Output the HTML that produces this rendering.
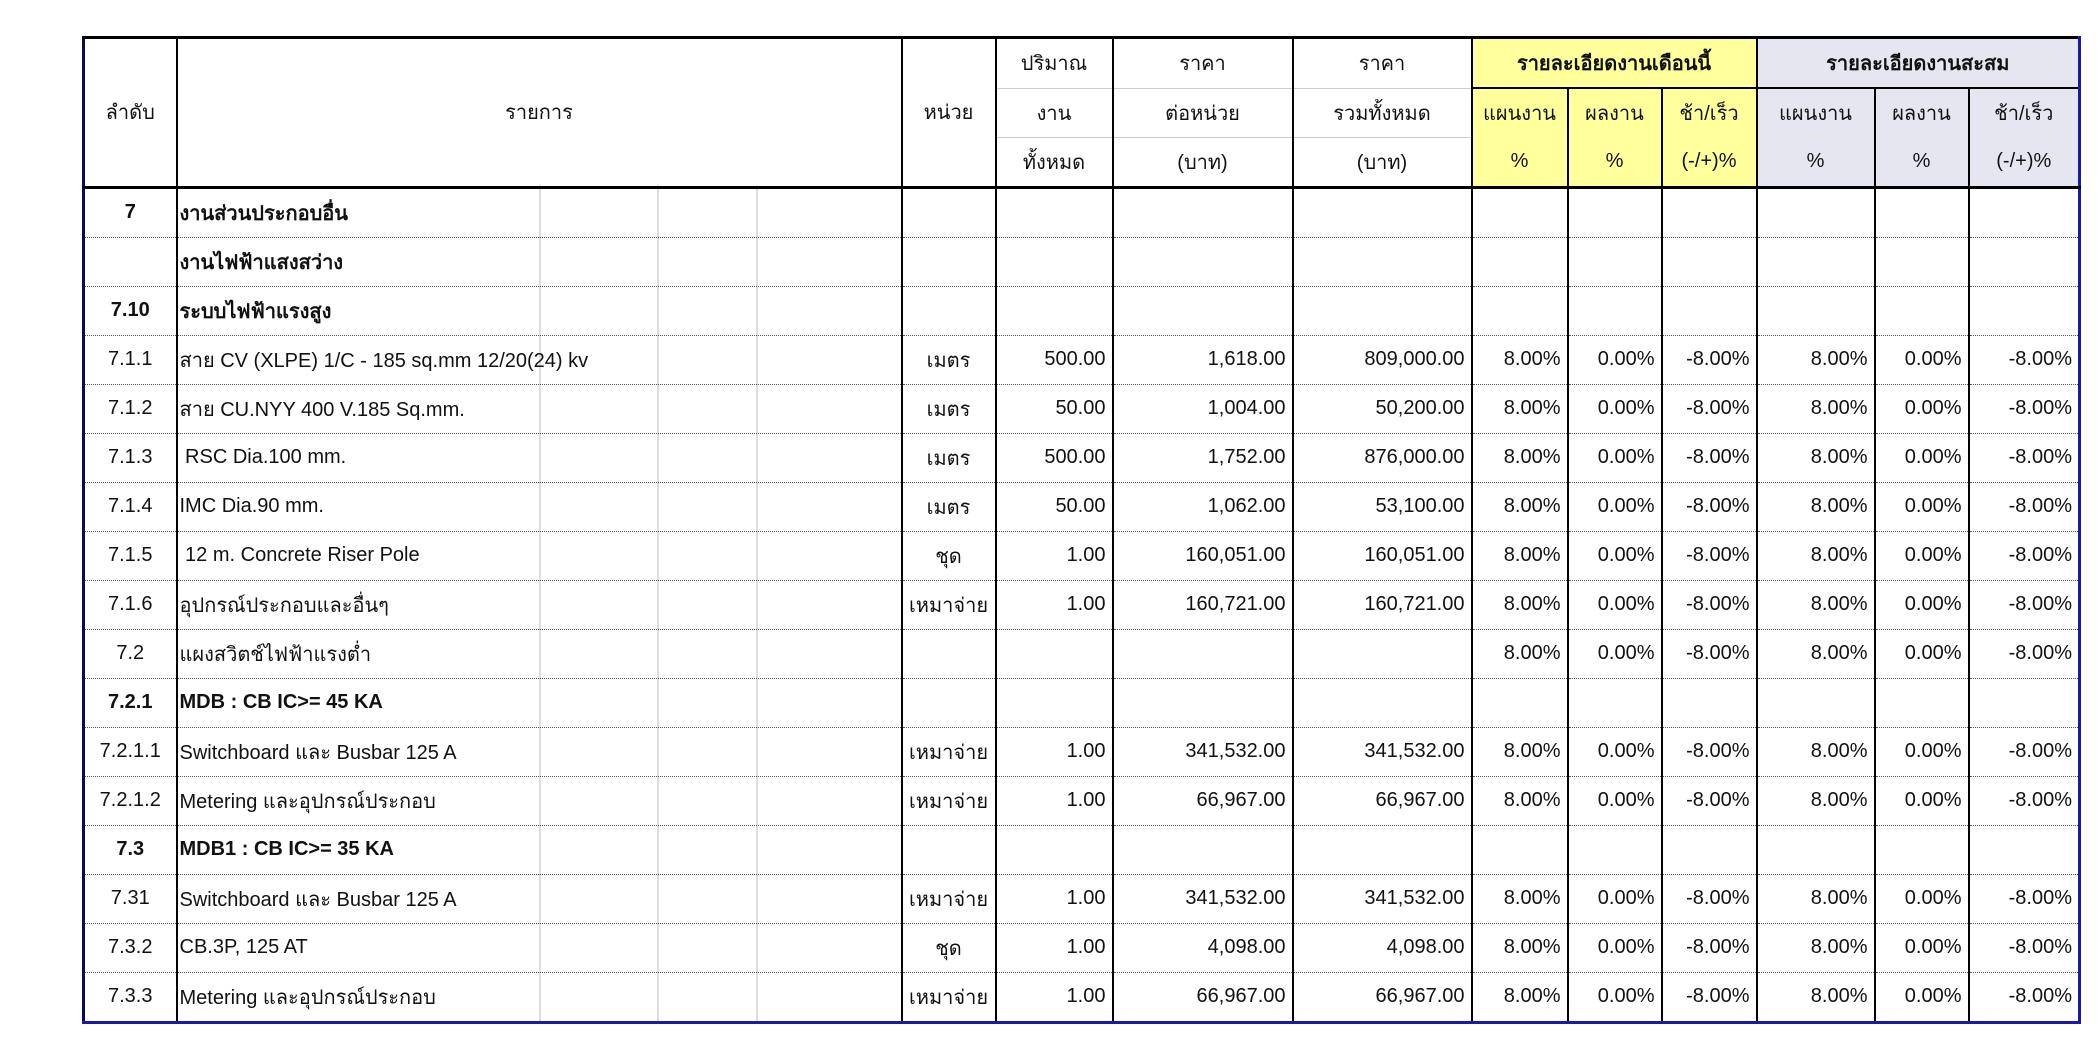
<!DOCTYPE html>
<html><head><meta charset="utf-8"><style>
html,body{margin:0;padding:0;background:#fff;width:2098px;height:1063px;overflow:hidden}
body{position:relative;font-family:"Liberation Sans","DejaVu Sans","Noto Sans CJK SC",sans-serif;font-size:20px;color:#111}
table{position:absolute;left:82px;top:36px;border-collapse:collapse;table-layout:fixed;width:1996px}
td{padding:0 6px;height:48px;border-left:2px solid #000;border-right:2px solid #000;border-bottom:1px dotted #555;white-space:nowrap;overflow:hidden;text-align:right}
thead td{border-bottom:1px solid #ccc;text-align:center;height:48px}
thead tr:first-child td{border-top:3px solid #000}
thead tr:last-child td, thead td.rs{border-bottom:3px solid #000}
.y{background:#ffff9c}.l{background:#e6e6f0}
.c{text-align:center}.t{text-align:left;padding-left:2px}.b{font-weight:bold}
.gv{position:absolute;top:185px;height:836px;width:2px;background:#ddd}
td.hb{border-bottom:2px solid #000}
</style></head><body>
<div class="gv" style="left:539px"></div><div class="gv" style="left:657px"></div><div class="gv" style="left:756px"></div>
<table>
<colgroup><col style="width:93px"><col style="width:725px"><col style="width:94px"><col style="width:117px"><col style="width:180px"><col style="width:179px"><col style="width:96px"><col style="width:94px"><col style="width:95px"><col style="width:118px"><col style="width:94px"><col style="width:111px"></colgroup>
<thead>
<tr><td rowspan="3" class="rs" style="border-left:3px solid #0a0a50">ลำดับ</td><td rowspan="3" class="rs">รายการ</td><td rowspan="3" class="rs">หน่วย</td><td>ปริมาณ</td><td>ราคา</td><td>ราคา</td><td colspan="3" class="y b hb">รายละเอียดงานเดือนนี้</td><td colspan="3" class="l b hb" style="border-right:3px solid #1a1aa8">รายละเอียดงานสะสม</td></tr>
<tr><td>งาน</td><td>ต่อหน่วย</td><td>รวมทั้งหมด</td><td class="y" style="border-bottom:none">แผนงาน</td><td class="y" style="border-bottom:none">ผลงาน</td><td class="y" style="border-bottom:none">ช้า/เร็ว</td><td class="l" style="border-bottom:none">แผนงาน</td><td class="l" style="border-bottom:none">ผลงาน</td><td class="l" style="border-bottom:none;border-right:3px solid #1a1aa8">ช้า/เร็ว</td></tr>
<tr><td>ทั้งหมด</td><td>(บาท)</td><td>(บาท)</td><td class="y">%</td><td class="y">%</td><td class="y">(-/+)%</td><td class="l">%</td><td class="l">%</td><td class="l" style="border-right:3px solid #1a1aa8">(-/+)%</td></tr>
</thead>
<tbody id="tb"></tbody>
</table>
<script>
var P=['8.00%','0.00%','-8.00%','8.00%','0.00%','-8.00%'];
var rows=[
['7','งานส่วนประกอบอื่น','','','','',0,1],
['','งานไฟฟ้าแสงสว่าง','','','','',0,1],
['7.10','ระบบไฟฟ้าแรงสูง','','','','',0,1],
['7.1.1','สาย CV (XLPE) 1/C - 185 sq.mm 12/20(24) kv','เมตร','500.00','1,618.00','809,000.00',1,0],
['7.1.2','สาย CU.NYY 400 V.185 Sq.mm.','เมตร','50.00','1,004.00','50,200.00',1,0],
['7.1.3',' RSC Dia.100 mm.','เมตร','500.00','1,752.00','876,000.00',1,0],
['7.1.4','IMC Dia.90 mm.','เมตร','50.00','1,062.00','53,100.00',1,0],
['7.1.5',' 12 m. Concrete Riser Pole','ชุด','1.00','160,051.00','160,051.00',1,0],
['7.1.6','อุปกรณ์ประกอบและอื่นๆ','เหมาจ่าย','1.00','160,721.00','160,721.00',1,0],
['7.2','แผงสวิตช์ไฟฟ้าแรงต่ำ','','','','',1,0],
['7.2.1','MDB : CB IC>= 45 KA','','','','',0,1],
['7.2.1.1','Switchboard และ Busbar 125 A','เหมาจ่าย','1.00','341,532.00','341,532.00',1,0],
['7.2.1.2','Metering และอุปกรณ์ประกอบ','เหมาจ่าย','1.00','66,967.00','66,967.00',1,0],
['7.3','MDB1 : CB IC>= 35 KA','','','','',0,1],
['7.31','Switchboard และ Busbar 125 A','เหมาจ่าย','1.00','341,532.00','341,532.00',1,0],
['7.3.2','CB.3P, 125 AT','ชุด','1.00','4,098.00','4,098.00',1,0],
['7.3.3','Metering และอุปกรณ์ประกอบ','เหมาจ่าย','1.00','66,967.00','66,967.00',1,0]];
var h='';
rows.forEach(function(r,i){
 var last=i==rows.length-1;
 var bb=last?'border-bottom:3px solid #1a1aa8;':'';
 var b=r[7]?' b':'';
 h+='<tr><td class="c'+b+'" style="border-left:3px solid #0a0a50;'+bb+'">'+r[0]+'</td><td class="t'+b+'" style="'+bb+'">'+r[1].replace(/^ /,'&nbsp;')+'</td><td class="c" style="'+bb+'">'+r[2]+'</td><td style="'+bb+'">'+r[3]+'</td><td style="'+bb+'">'+r[4]+'</td><td style="'+bb+'">'+r[5]+'</td>';
 for(var k=0;k<6;k++){h+='<td style="'+bb+(k==5?'border-right:3px solid #1a1aa8;':'')+'">'+(r[6]?P[k]:'')+'</td>';}
 h+='</tr>';
});
document.getElementById('tb').innerHTML=h;
</script>
</body></html>
